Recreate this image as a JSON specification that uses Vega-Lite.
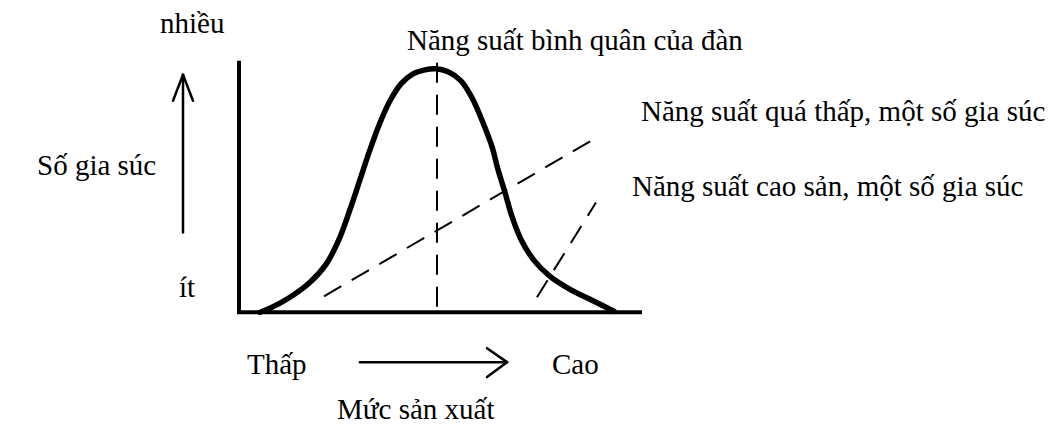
{
  "$schema": "https://vega.github.io/schema/vega-lite/v6.json",
  "width": 1055,
  "height": 425,
  "autosize": {"type": "fit", "contains": "padding"},
  "padding": 0,
  "background": "white",
  "config": {"view": {"stroke": null}},
  "datasets": {
    "curve": [
      {"i": 1, "x": 260, "y": 313}, {"i": 2, "x": 270, "y": 309}, {"i": 3, "x": 290, "y": 298},
      {"i": 4, "x": 310, "y": 283}, {"i": 5, "x": 326, "y": 265}, {"i": 6, "x": 339, "y": 240},
      {"i": 7, "x": 350, "y": 210}, {"i": 8, "x": 360, "y": 180}, {"i": 9, "x": 370, "y": 150},
      {"i": 10, "x": 380, "y": 123}, {"i": 11, "x": 390, "y": 101}, {"i": 12, "x": 401, "y": 84},
      {"i": 13, "x": 413, "y": 74}, {"i": 14, "x": 425, "y": 70}, {"i": 15, "x": 436, "y": 69},
      {"i": 16, "x": 448, "y": 72}, {"i": 17, "x": 461, "y": 81}, {"i": 18, "x": 472, "y": 98},
      {"i": 19, "x": 483, "y": 123}, {"i": 20, "x": 492, "y": 147}, {"i": 21, "x": 498, "y": 170},
      {"i": 22, "x": 505, "y": 193}, {"i": 23, "x": 512, "y": 217}, {"i": 24, "x": 521, "y": 240},
      {"i": 25, "x": 534, "y": 261}, {"i": 26, "x": 550, "y": 277}, {"i": 27, "x": 570, "y": 290},
      {"i": 28, "x": 590, "y": 300}, {"i": 29, "x": 606, "y": 308}, {"i": 30, "x": 614, "y": 312}
    ],
    "frame": [
      {"i": 1, "x": 239, "y": 63},
      {"i": 2, "x": 239, "y": 313},
      {"i": 3, "x": 640, "y": 313}
    ],
    "dashed": [
      {"x": 437, "y": 63, "x2": 437, "y2": 313},
      {"x": 324, "y": 297, "x2": 593, "y2": 140},
      {"x": 537, "y": 298, "x2": 596, "y2": 203}
    ],
    "arrows": [
      {"x": 183, "y": 233, "x2": 183, "y2": 75},
      {"x": 173, "y": 101, "x2": 183, "y2": 75},
      {"x": 193, "y": 101, "x2": 183, "y2": 75},
      {"x": 360, "y": 363, "x2": 507, "y2": 363},
      {"x": 487, "y": 349, "x2": 507, "y2": 363},
      {"x": 487, "y": 378, "x2": 507, "y2": 363}
    ],
    "labels": [
      {"x": 160, "y": 33, "label": "nhiều"},
      {"x": 407, "y": 50, "label": "Năng suất bình quân của đàn"},
      {"x": 641, "y": 121, "label": "Năng suất quá thấp, một số gia súc"},
      {"x": 632, "y": 196, "label": "Năng suất cao sản, một số gia súc"},
      {"x": 37, "y": 175, "label": "Số gia súc"},
      {"x": 179, "y": 298, "label": "ít"},
      {"x": 247, "y": 375, "label": "Thấp"},
      {"x": 552, "y": 375, "label": "Cao"},
      {"x": 337, "y": 420, "label": "Mức sản xuất"}
    ]
  },
  "encoding": {
    "x": {"field": "x", "type": "quantitative", "scale": {"domain": [0, 1055], "nice": false, "zero": false}, "axis": null},
    "y": {"field": "y", "type": "quantitative", "scale": {"domain": [0, 425], "nice": false, "zero": false, "reverse": true}, "axis": null}
  },
  "layer": [
    {
      "data": {"name": "frame"},
      "mark": {"type": "line", "color": "black", "strokeWidth": 4, "strokeJoin": "miter", "strokeCap": "square"},
      "encoding": {"order": {"field": "i", "type": "quantitative"}}
    },
    {
      "data": {"name": "dashed"},
      "mark": {"type": "rule", "color": "black", "strokeWidth": 2, "strokeDash": [20, 12]},
      "encoding": {"x2": {"field": "x2"}, "y2": {"field": "y2"}}
    },
    {
      "data": {"name": "curve"},
      "mark": {"type": "line", "color": "black", "strokeWidth": 5.5, "interpolate": "catmull-rom", "strokeCap": "round"},
      "encoding": {"order": {"field": "i", "type": "quantitative"}}
    },
    {
      "data": {"name": "arrows"},
      "mark": {"type": "rule", "color": "black", "strokeWidth": 2.5, "strokeCap": "round"},
      "encoding": {"x2": {"field": "x2"}, "y2": {"field": "y2"}}
    },
    {
      "data": {"name": "labels"},
      "mark": {"type": "text", "align": "left", "baseline": "alphabetic", "font": "Liberation Serif", "fontSize": 29, "color": "black"},
      "encoding": {"text": {"field": "label", "type": "nominal"}}
    }
  ]
}
